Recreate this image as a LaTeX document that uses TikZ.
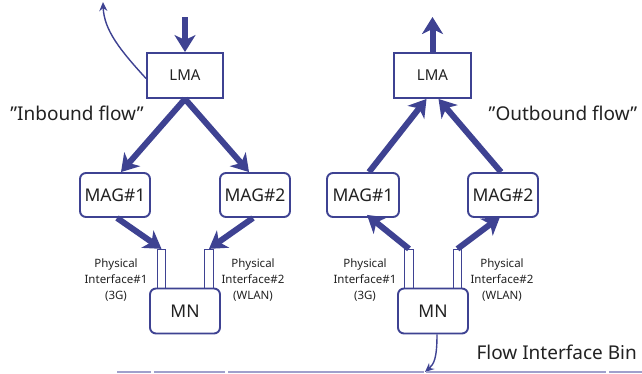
\documentclass[tikz,border=0pt]{standalone}
\usepackage{fontspec}
\setmainfont{Noto Sans}
\usetikzlibrary{arrows.meta}
\definecolor{ink}{HTML}{3E4292}
\definecolor{txt}{HTML}{222222}
\definecolor{rule}{HTML}{A0A0CC}
\begin{document}
\begin{tikzpicture}[x=1pt,y=-1pt,
  every node/.style={text=txt},
  lmabox/.style={draw=ink,line width=1.9pt,minimum width=76pt,minimum height=45pt,inner sep=0pt,font=\fontsize{15}{17}\selectfont},
  magbox/.style={draw=ink,line width=1.9pt,rounded corners=6pt,minimum width=70pt,minimum height=44pt,inner sep=0pt,font=\fontsize{17.5}{20}\selectfont},
  ifbox/.style={draw=ink,line width=1.3pt,minimum width=8.5pt,minimum height=39pt,inner sep=0pt},
  flow/.style={draw=ink,line width=6pt,-{Stealth[length=17pt,width=21pt,inset=5pt]}},
  thin/.style={draw=ink,line width=1.4pt,-{Stealth[length=9pt,width=8pt]}},
  iflabel/.style={align=center,anchor=north,inner sep=0pt,font=\fontsize{11.5}{16}\selectfont},
  title/.style={font=\fontsize{19}{22}\selectfont}
]
\useasboundingbox[fill=white] (0,0) rectangle (642,373);

% ---------- inbound side ----------
\node[lmabox] (lmaL) at (185,75.5) {LMA};
\node[magbox] (mag1L) at (115,195) {MAG\#1};
\node[magbox] (mag2L) at (255,195) {MAG\#2};
\node[ifbox] (if1L) at (161.5,269) {};
\node[ifbox] (if2L) at (209,269) {};
\node[magbox,minimum height=45pt] (mnL) at (185,311) {MN};
\coordinate (inL) at (185,17);
\coordinate (upL) at (103,2);

\draw[flow] (inL) -- (lmaL.north);
\draw[flow] (lmaL.south) -- ([xshift=6pt]mag1L.north);
\draw[flow] (lmaL.south) -- ([xshift=-6pt]mag2L.north);
\draw[flow] ([xshift=2pt]mag1L.south) -- (if1L.north);
\draw[flow] ([xshift=-2pt]mag2L.south) -- (if2L.north);
\draw[thin] ([yshift=-3pt]lmaL.west) .. controls (120,50) and (104,30) .. (upL);

\node[iflabel] (lab1L) at (116,259) {Physical\\Interface\#1\\(3G)};
\node[iflabel] (lab2L) at (253,259) {Physical\\Interface\#2\\(WLAN)};
\node[title] (inb) at (77,113) {”Inbound flow”};

% ---------- outbound side ----------
\node[lmabox,minimum width=77pt] (lmaR) at (432.5,75.5) {LMA};
\node[magbox,minimum width=72pt] (mag1R) at (363,195) {MAG\#1};
\node[magbox] (mag2R) at (503,195) {MAG\#2};
\node[ifbox] (if1R) at (409,269) {};
\node[ifbox] (if2R) at (457.5,269) {};
\node[magbox,minimum height=45pt] (mnR) at (433,311) {MN};
\coordinate (outR) at (432.5,17);
\coordinate (downR) at (425,372);

\draw[flow] (lmaR.north) -- (outR);
\draw[flow] ([xshift=6pt]mag1R.north) -- ([xshift=-6pt]lmaR.south);
\draw[flow] ([xshift=-2pt]mag2R.north) -- ([xshift=6pt]lmaR.south);
\draw[flow] (if1R.north) -- ([xshift=4pt,yshift=3pt]mag1R.south);
\draw[flow] (if2R.north) -- ([xshift=-3pt,yshift=1pt]mag2R.south);
\draw[thin] ([xshift=4pt]mnR.south) .. controls (437,358) and (434,364) .. (downR);

\node[iflabel] (lab1R) at (365,259) {Physical\\Interface\#1\\(3G)};
\node[iflabel] (lab2R) at (502,259) {Physical\\Interface\#2\\(WLAN)};
\node[title] (outb) at (563,113) {”Outbound flow”};

% ---------- caption and base rule ----------
\node[anchor=west,font=\fontsize{19}{22}\selectfont] (bind) at (473,352) {Flow Interface Bin};
\draw[rule,line width=1.2pt] (117,372) -- (151,372) (154,372) -- (225,372)
  (228,372) -- (424,372) (426,372) -- (606,372) (609,372) -- (642,372);
\end{tikzpicture}
\end{document}
